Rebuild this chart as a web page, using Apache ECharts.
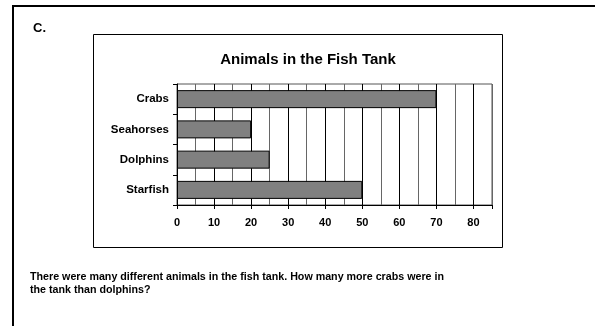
<!DOCTYPE html>
<html>
<head>
<meta charset="utf-8">
<script src="https://cdn.jsdelivr.net/npm/echarts@6/dist/echarts.min.js"></script>
<style>
html,body{margin:0;padding:0;background:#fff;}
#c{width:595px;height:326px;}
</style>
</head>
<body>
<div id="c"></div>
<script>
const categories = ['Starfish', 'Dolphins', 'Seahorses', 'Crabs'];
const values = [50, 25, 20, 70];
const xMax = 85;
const titleText = 'Animals in the Fish Tank';
const label = 'C.';
const questionText = 'There were many different animals in the fish tank. How many more crabs were in\nthe tank than dolphins?';

const FONT = '"Liberation Sans", Arial, sans-serif';
const chart = echarts.init(document.getElementById('c'), null, {renderer: 'canvas'});
chart.setOption({
  backgroundColor: '#fff',
  animation: false,
  title: {
    text: titleText,
    left: 303,
    top: 47,
    textAlign: 'center',
    textStyle: {fontFamily: FONT, fontWeight: 'bold', fontSize: 15, color: '#000'}
  },
  grid: {left: 177, right: 103, top: 84, bottom: 121, show: true, borderColor: '#555', borderWidth: 1, backgroundColor: 'transparent'},
  xAxis: [
    {
      type: 'value', min: 0, max: xMax, interval: 5, position: 'bottom',
      axisLine: {show: false}, axisTick: {show: false}, axisLabel: {show: false},
      splitLine: {show: true, lineStyle: {color: ['#000', '#666'], width: 1}}
    },
    {
      type: 'value', min: 0, max: xMax, interval: 10, position: 'bottom',
      axisLine: {show: true, onZero: false, lineStyle: {color: '#000', width: 1}},
      axisTick: {show: true, length: 4, lineStyle: {color: '#000'}},
      splitLine: {show: false},
      axisLabel: {
        margin: 12, color: '#000', fontFamily: FONT, fontWeight: 'bold', fontSize: 11,
        formatter: v => (v % 10 === 0 ? String(v) : '')
      }
    }
  ],
  yAxis: {
    type: 'category', data: categories,
    axisLine: {show: true, lineStyle: {color: '#000', width: 1}},
    axisTick: {show: true, length: 4, lineStyle: {color: '#000'}},
    axisLabel: {margin: 8, color: '#000', fontFamily: FONT, fontWeight: 'bold', fontSize: 11.5},
    splitLine: {show: false}
  },
  series: [{
    type: 'bar', xAxisIndex: 0, data: values, barWidth: 18,
    itemStyle: {color: '#808080', borderColor: '#000', borderWidth: 1},
    z: 5
  }],
  graphic: [
    {type: 'line', shape: {x1: 13, y1: 5, x2: 13, y2: 326}, style: {stroke: '#000', lineWidth: 2}},
    {type: 'line', shape: {x1: 12, y1: 6, x2: 595, y2: 6}, style: {stroke: '#000', lineWidth: 2}},
    {type: 'rect', shape: {x: 93.5, y: 34.5, width: 409, height: 213}, style: {fill: 'none', stroke: '#000', lineWidth: 1}, z: -1},
    {type: 'text', left: 33, top: 22, style: {text: label, fontFamily: FONT, fontWeight: 'bold', fontSize: 13, fill: '#000'}},
    {type: 'text', left: 30, top: 271, style: {text: questionText, fontFamily: FONT, fontWeight: 'bold', fontSize: 10.7, lineHeight: 13, fill: '#000'}}
  ]
});
</script>
</body>
</html>
